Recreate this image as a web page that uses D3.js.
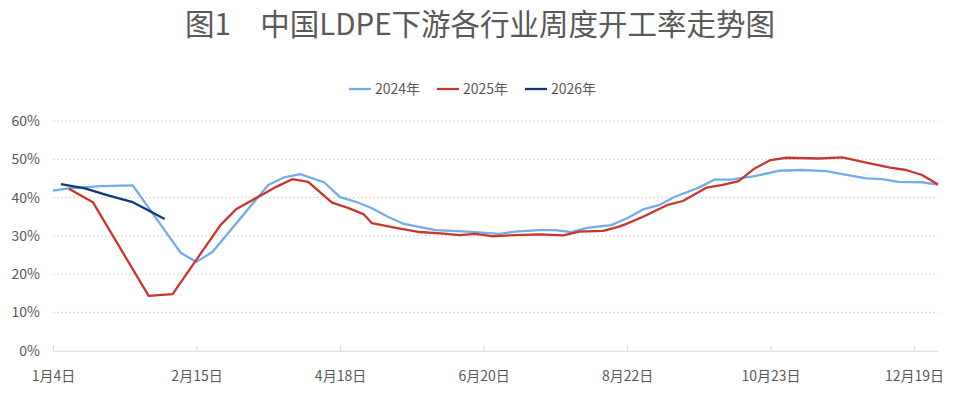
<!DOCTYPE html>
<html>
<head>
<meta charset="utf-8">
<script src="https://cdn.jsdelivr.net/npm/d3@7"></script>
<style>
  body { margin: 0; background: #fff; }
  svg text { font-family: "Noto Sans CJK SC", "Noto Sans", sans-serif; fill: #595959; }
</style>
</head>
<body>
<script>
// x positions are slots on the category axis (one label every 18 slots)
var tickLabels = ["1月4日", "2月15日", "4月18日", "6月20日", "8月22日", "10月23日", "12月19日"];
var tickStep = 18;
var lastSlot = 111;
var yTicks = [0, 0.1, 0.2, 0.3, 0.4, 0.5, 0.6];

var names = ["2024年", "2025年", "2026年"];
var colors = ["#74abe9", "#c9372c", "#0d3a7e"];

var x2024 = [0, 2, 6, 10, 16, 18, 20, 27, 29, 31, 34, 36, 38, 40, 42, 44, 48, 52, 56, 58, 61, 63, 65, 67, 70, 72, 74, 76, 78, 81, 83, 85, 88, 90, 91, 94, 97, 99, 102, 104, 106, 109, 111];
var v2024 = [41.8, 42.4, 43.0, 43.2, 25.6, 23.2, 25.8, 43.3, 45.3, 46.1, 44.0, 40.1, 38.9, 37.2, 35.0, 33.1, 31.5, 31.1, 30.5, 31.1, 31.5, 31.5, 31.0, 32.1, 32.8, 34.6, 36.9, 38.0, 40.2, 42.6, 44.7, 44.7, 45.6, 46.5, 47.0, 47.2, 46.9, 46.1, 45.0, 44.8, 44.1, 44.0, 43.4];

var x2025 = [2, 5, 12, 15, 18, 21, 23, 26, 28, 30, 32, 35, 37, 39, 40, 43, 46, 49, 51, 53, 55, 58, 61, 64, 66, 69, 71, 72, 74, 77, 79, 82, 84, 86, 88, 90, 92, 96, 99, 102, 105, 107, 109, 111];
var v2025 = [42.3, 38.8, 14.3, 14.8, 23.8, 32.8, 37.0, 40.5, 42.8, 44.8, 44.1, 38.7, 37.3, 35.6, 33.3, 32.1, 31.0, 30.6, 30.2, 30.5, 29.9, 30.2, 30.4, 30.1, 31.1, 31.3, 32.4, 33.2, 35.0, 38.0, 39.1, 42.6, 43.3, 44.3, 47.6, 49.8, 50.4, 50.2, 50.5, 49.1, 47.8, 47.2, 45.9, 43.4];

var x2026 = [1, 4, 7, 10, 12, 14];
var v2026 = [43.5, 42.4, 40.5, 38.8, 36.6, 34.4];

var W = 961, H = 395;
var margin = {top: 121, right: 23, bottom: 44, left: 53};

var svg = d3.select("body").append("svg")
    .attr("width", W)
    .attr("height", H);

var x = d3.scaleLinear().domain([0, lastSlot]).range([margin.left, W - margin.right]);
var y = d3.scaleLinear().domain([0, 0.6]).range([H - margin.bottom - 0.3, margin.top]);

// title
svg.append("text")
    .attr("x", 480)
    .attr("y", 35)
    .attr("text-anchor", "middle")
    .style("font-size", "29.5px")
    .text("图1　中国LDPE下游各行业周度开工率走势图");

// grid lines
svg.append("g").selectAll("line")
    .data(yTicks.slice(1))
    .join("line")
    .attr("x1", x(0))
    .attr("x2", x(lastSlot))
    .attr("y1", function(d) { return y(d); })
    .attr("y2", function(d) { return y(d); })
    .attr("stroke", "#d9d9d9")
    .attr("stroke-dasharray", "2,2");

// y axis
var yAxis = svg.append("g")
    .attr("transform", "translate(" + (margin.left - 13) + ",0)")
    .call(d3.axisLeft(y).tickValues(yTicks).tickFormat(d3.format(".0%")).tickSize(0).tickPadding(0));
yAxis.select(".domain").remove();
yAxis.selectAll("text").style("font-size", "14px").attr("fill", "#595959");

// x axis
var xAxis = svg.append("g")
    .attr("transform", "translate(0," + y(0) + ")")
    .call(d3.axisBottom(x)
        .tickValues(tickLabels.map(function(d, i) { return i * tickStep; }))
        .tickFormat(function(d, i) { return tickLabels[i]; })
        .tickSizeInner(-5).tickSizeOuter(0).tickPadding(20));
xAxis.select(".domain").attr("stroke", "#d9d9d9");
xAxis.selectAll(".tick line").attr("stroke", "#d9d9d9");
xAxis.selectAll("text").style("font-size", "14px").attr("fill", "#595959");

// lines
var series = [
    {xs: x2024, vs: v2024},
    {xs: x2025, vs: v2025},
    {xs: x2026, vs: v2026}
];
var line = d3.line()
    .x(function(d) { return x(d[0]); })
    .y(function(d) { return y(d[1] / 100); });

series.forEach(function(s, i) {
    var pts = s.xs.map(function(d, j) { return [d, s.vs[j]]; });
    svg.append("path")
        .datum(pts)
        .attr("fill", "none")
        .attr("stroke", colors[i])
        .attr("stroke-width", 2.3)
        .attr("stroke-linejoin", "round")
        .attr("d", line);
});

// legend
var legend = svg.append("g").attr("transform", "translate(349,89)");
var lg = legend.selectAll("g")
    .data(names)
    .join("g")
    .attr("transform", function(d, i) { return "translate(" + (i * 88) + ",0)"; });
lg.append("line")
    .attr("x1", 0).attr("x2", 22)
    .attr("stroke", function(d, i) { return colors[i]; })
    .attr("stroke-width", 2.3);
lg.append("text")
    .attr("x", 26)
    .attr("dy", "0.35em")
    .style("font-size", "14px")
    .text(function(d) { return d; });
</script>
</body>
</html>
